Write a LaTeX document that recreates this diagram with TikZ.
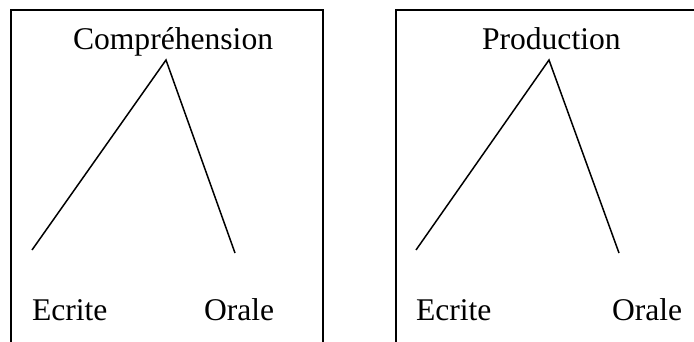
\documentclass[tikz,border=0pt]{standalone}
\usepackage{fontspec}
\setmainfont{Liberation Serif}
\begin{document}
\begin{tikzpicture}[x=1pt,y=-1pt,
  lbl/.style={anchor=base west,inner sep=0pt,outer sep=0pt,font=\fontsize{31.6}{36}\selectfont},
  frame/.style={draw=black,line width=2pt},
  leg/.style={draw=black,line width=1.5pt}]
\useasboundingbox (0,0) rectangle (694,342);
\begin{scope}
\clip (0,0) rectangle (694,342);
\draw[frame] (11,10) rectangle (323,360);
\draw[frame] (396,10) rectangle (720,360);
\end{scope}
% left box
\node[lbl] (comp) at (73,50) {Compréhension};
\node[lbl] (ecrL) at (32,320) {Ecrite};
\node[lbl] (oraL) at (204,320) {Orale};
\coordinate (apL) at (166,60);
\coordinate (leL) at (32,250);
\coordinate (reL) at (235,253);
\draw[leg] (leL) -- (apL) -- (reL);
% right box
\node[lbl] (prod) at (482,50) {Production};
\node[lbl] (ecrR) at (416,320) {Ecrite};
\node[lbl] (oraR) at (612,320) {Orale};
\coordinate (apR) at (549,60);
\coordinate (leR) at (416,250);
\coordinate (reR) at (619,253);
\draw[leg] (leR) -- (apR) -- (reR);
\end{tikzpicture}
\end{document}
